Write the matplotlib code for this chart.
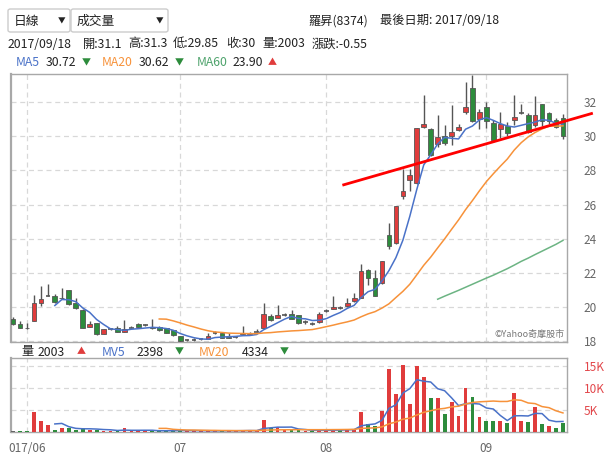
import numpy as np
import matplotlib
matplotlib.use("Agg")
import matplotlib.pyplot as plt
from matplotlib.patches import FancyBboxPatch

plt.rcParams["font.family"] = ["Noto Sans CJK TC", "DejaVu Sans"]

# daily candles, 2017/05 .. 2017/09/18 (one entry per trading day)
opens = [19.31, 18.98, 18.78, 19.18, 20.22, 20.65, 20.61, 20.55, 20.98, 20.25,
         19.82, 18.84, 19.04, 18.43, 18.69, 18.78, 18.55, 18.78, 18.98, 18.92,
         18.80, 18.82, 18.75, 18.63, 18.29, 18.04, 18.08, 18.12, 18.14, 18.47,
         18.49, 18.25, 18.22, 18.39, 18.39, 18.53, 18.78, 19.49, 19.37, 19.53,
         19.61, 19.51, 19.12, 19.02, 19.14, 19.77, 19.88, 19.96, 20.04, 20.35,
         20.55, 22.16, 21.72, 21.43, 24.22, 23.75, 26.53, 27.47, 27.28, 30.55,
         30.41, 29.57, 30.02, 30.00, 30.35, 31.43, 32.86, 31.04, 31.72, 30.80,
         30.45, 30.59, 30.94, 31.39, 31.24, 30.65, 31.88, 31.37, 30.98, 31.10]
highs = [19.43, 19.15, 19.08, 20.70, 21.20, 21.33, 20.75, 21.13, 21.00, 20.55,
         19.85, 19.18, 19.06, 18.72, 18.75, 18.90, 19.23, 18.90, 19.05, 19.00,
         19.27, 18.85, 18.78, 18.65, 18.30, 18.10, 18.20, 18.20, 18.49, 18.60,
         18.52, 18.45, 18.30, 18.88, 18.55, 18.70, 20.25, 19.60, 20.12, 19.65,
         19.80, 19.55, 19.25, 19.10, 19.70, 19.85, 20.65, 20.05, 20.55, 20.80,
         22.50, 22.20, 22.16, 22.70, 24.90, 25.90, 28.06, 28.06, 30.49, 32.45,
         30.50, 31.27, 30.65, 31.82, 30.75, 33.20, 33.59, 31.60, 32.00, 30.95,
         31.43, 30.84, 32.41, 31.92, 31.35, 32.35, 31.90, 31.45, 31.05, 31.30]
lows = [18.95, 18.76, 18.72, 19.15, 20.05, 20.62, 20.25, 20.45, 20.10, 19.90,
        18.75, 18.80, 18.35, 18.40, 18.65, 18.52, 18.52, 18.75, 18.80, 18.85,
        18.70, 18.60, 18.45, 18.30, 17.95, 18.00, 18.00, 18.05, 18.10, 18.40,
        18.18, 18.15, 18.18, 18.35, 18.35, 18.50, 18.75, 19.15, 19.35, 19.45,
        19.28, 19.00, 18.98, 18.95, 19.05, 19.70, 19.85, 19.90, 19.98, 20.30,
        20.50, 21.30, 20.62, 21.35, 23.39, 23.70, 26.33, 26.80, 27.22, 30.50,
        28.85, 29.37, 29.50, 29.47, 30.30, 31.30, 30.85, 30.45, 30.50, 29.70,
        29.90, 30.00, 30.65, 31.30, 30.20, 30.55, 30.60, 30.75, 30.50, 29.85]
closes = [18.98, 18.78, 18.75, 20.22, 20.49, 20.65, 20.29, 20.50, 20.16, 19.96,
          18.78, 18.98, 18.43, 18.69, 18.69, 18.55, 18.73, 18.78, 18.84, 18.92,
          18.75, 18.63, 18.49, 18.34, 18.00, 18.04, 18.08, 18.12, 18.27, 18.47,
          18.20, 18.20, 18.22, 18.47, 18.49, 18.53, 19.61, 19.22, 19.51, 19.53,
          19.31, 19.04, 19.12, 19.02, 19.61, 19.77, 19.98, 19.96, 20.22, 20.50,
          22.08, 21.69, 20.65, 22.67, 23.55, 25.90, 26.78, 27.71, 30.49, 30.75,
          28.88, 29.96, 29.61, 30.25, 30.55, 31.72, 30.90, 31.43, 30.90, 29.76,
          30.75, 30.20, 31.14, 31.39, 30.25, 31.24, 30.90, 30.90, 30.55, 30.00]
volumes = [300, 200, 200, 4560, 2400, 1500, 500, 800, 850, 500,
           1000, 500, 500, 300, 200, 250, 900, 300, 300, 250,
           250, 300, 300, 300, 500, 250, 250, 200, 300, 250,
           400, 300, 200, 350, 400, 300, 2800, 900, 1100, 400,
           400, 600, 300, 300, 500, 300, 600, 400, 700, 700,
           4600, 1900, 1300, 4800, 14300, 8600, 15300, 6300, 15000, 12500,
           7700, 7700, 4000, 6900, 3700, 9900, 7900, 3400, 2400, 2500,
           2600, 2100, 8800, 2500, 2200, 5600, 1800, 1300, 900, 2003]

# moving average lines as drawn on the chart (first value's day index, values)
ma5_start = 6
ma5 = [20.08, 20.43, 20.42, 20.31, 19.94, 19.68, 19.26, 18.97, 18.71, 18.67,
       18.62, 18.69, 18.72, 18.76, 18.8, 18.78, 18.73, 18.63, 18.44, 18.3,
       18.19, 18.12, 18.1, 18.2, 18.23, 18.25, 18.27, 18.31, 18.32, 18.38,
       18.66, 18.86, 19.07, 19.28, 19.44, 19.32, 19.3, 19.2, 19.22, 19.31,
       19.5, 19.67, 19.91, 20.09, 20.55, 20.89, 21.03, 21.52, 22.13, 22.89,
       23.91, 25.32, 26.89, 28.33, 28.92, 29.56, 29.94, 29.89, 29.85, 30.42,
       30.61, 30.97, 31.1, 30.94, 30.75, 30.61, 30.55, 30.65, 30.75, 30.84,
       30.98, 30.94, 30.77, 30.72]
ma20_start = 21
ma20 = [19.29, 19.28, 19.18, 19.06, 18.93, 18.82, 18.7, 18.6, 18.53, 18.5,
        18.46, 18.45, 18.44, 18.43, 18.43, 18.47, 18.49, 18.53, 18.56, 18.59,
        18.61, 18.64, 18.67, 18.75, 18.84, 18.93, 19.03, 19.12, 19.23, 19.42,
        19.59, 19.72, 19.93, 20.18, 20.55, 20.91, 21.33, 21.88, 22.44, 22.92,
        23.46, 23.99, 24.55, 25.1, 25.7, 26.24, 26.81, 27.35, 27.81, 28.25,
        28.67, 29.2, 29.63, 29.97, 30.23, 30.44, 30.6, 30.6, 30.62]
ma60_start = 61
ma60 = [20.45, 20.63, 20.8, 20.97, 21.15, 21.33, 21.51, 21.69, 21.86, 22.05,
        22.24, 22.45, 22.67, 22.86, 23.07, 23.27, 23.47, 23.67, 23.9]
mv5_start = 6
mv5 = [1832, 1952, 1210, 830, 730, 730, 670, 560, 500, 350,
       430, 390, 390, 400, 400, 280, 280, 280, 330, 330,
       320, 300, 300, 250, 280, 290, 290, 300, 330, 310,
       810, 950, 1100, 1100, 1120, 680, 560, 400, 420, 400,
       400, 420, 500, 540, 1400, 1660, 1840, 2660, 5380, 6180,
       8860, 9860, 11900, 11540, 11360, 9840, 9380, 7760, 6000, 6440,
       6480, 6360, 5460, 5220, 3760, 2600, 3680, 3700, 3640, 4240,
       4180, 2680, 2360, 2398]
mv20_start = 21
mv20 = [818, 823, 610, 515, 452, 440, 410, 382, 370, 340,
        330, 315, 318, 328, 330, 425, 455, 495, 502, 510,
        525, 525, 525, 525, 528, 545, 555, 575, 598, 808,
        888, 942, 1165, 1860, 2275, 2900, 3170, 3865, 4470, 4835,
        5190, 5375, 5705, 5865, 6345, 6710, 6860, 6945, 7035, 6935,
        6945, 7320, 7205, 6600, 6450, 5775, 5525, 4820, 4334]

month_pos = [2, 24, 45, 68]
month_labels = ["017/06", "07", "08", "09"]
price_ticks = [18, 20, 22, 24, 26, 28, 30, 32]
vol_ticks = [5000, 10000, 15000]
vol_tick_labels = ["5K", "10K", "15K"]
trend_x = [47.5, 83.1]
trend_y = [27.16, 31.34]

RED = "#e03c3c"
GREEN = "#2d8c3c"
BLUE = "#4a72c8"
ORANGE = "#f7923a"
MGREEN = "#6cb483"
EDGE = "#555555"
FS = 8.8


def span(start, vals):
    return np.arange(start, start + len(vals)), vals


fig = plt.figure(figsize=(6.12, 4.61), dpi=100)
ax = fig.add_axes([11 / 612, 1 - 342 / 461, 556 / 612, 268 / 461])
axv = fig.add_axes([11 / 612, 1 - 432 / 461, 556 / 612, 74 / 461])

# candles
x = np.arange(len(closes))
o = np.array(opens)
cl = np.array(closes)
ax.vlines(x, lows, highs, color=EDGE, lw=1, zorder=2)
body = np.abs(cl - o)
doji = body < 0.005
ax.bar(x[~doji], body[~doji], bottom=np.minimum(o, cl)[~doji], width=0.68,
       color=np.where(cl > o, RED, GREEN)[~doji], edgecolor=EDGE, lw=0.6, zorder=3)
ax.hlines(o[doji], x[doji] - 0.34, x[doji] + 0.34, color=EDGE, lw=1.2, zorder=3)
ax.plot(*span(ma5_start, ma5), color=BLUE, lw=1.1, zorder=4)
ax.plot(*span(ma20_start, ma20), color=ORANGE, lw=1.1, zorder=4)
ax.plot(*span(ma60_start, ma60), color=MGREEN, lw=1.1, zorder=4)
ax.plot(trend_x, trend_y, color="#ff0000", lw=2, clip_on=False, zorder=6)

ax.set_xlim(-0.3, 79.58)
ax.set_ylim(17.94, 33.66)
ax.set_yticks(price_ticks)
ax.set_xticks(month_pos)
ax.set_xticklabels([])
ax.yaxis.tick_right()
ax.tick_params(axis="y", length=0, pad=12, labelsize=8.5, labelcolor="#666666")
ax.tick_params(axis="x", length=0)
ax.grid(True, color="#d8d8d8", ls=(0, (4, 3)), lw=0.9)
ax.text(0.995, 0.01, "©Yahoo奇摩股市", transform=ax.transAxes, ha="right", va="bottom",
        fontsize=6.5, color="#777777")

# volume, coloured by change against the previous close
prev = np.concatenate([[closes[0]], closes[:-1]])
vcol = np.where(cl >= prev, RED, GREEN)
vcol[0] = "#666666"
axv.bar(x, volumes, width=0.55, color=vcol, zorder=3)
axv.plot(*span(mv5_start, mv5), color=BLUE, lw=1.1, zorder=4)
axv.plot(*span(mv20_start, mv20), color=ORANGE, lw=1.1, zorder=4)
axv.set_xlim(-0.3, 79.58)
axv.set_ylim(0, 16818)
axv.set_yticks(vol_ticks)
axv.set_yticklabels(vol_tick_labels)
axv.set_xticks(month_pos)
axv.set_xticklabels(month_labels)
axv.yaxis.tick_right()
axv.tick_params(axis="y", length=0, pad=12, labelsize=8.5, labelcolor="#e2474b")
axv.tick_params(axis="x", length=0, pad=7, labelsize=8.5, labelcolor="#666666")
axv.grid(True, color="#d8d8d8", ls=(0, (4, 3)), lw=0.9)

for a in (ax, axv):
    for s in a.spines.values():
        s.set_color("#a8a8a8")
        s.set_linewidth(1.0)
    a.spines["left"].set_linewidth(1.6)


def px(xp, yp):
    return xp / 612, 1 - yp / 461


# dropdowns
for x0, x1, label in [(8, 70, "日線"), (71, 168, "成交量")]:
    fig.patches.append(FancyBboxPatch(px(x0, 32), (x1 - x0) / 612, 23 / 461,
                                      boxstyle="round,pad=0,rounding_size=0.004",
                                      transform=fig.transFigure, fc="white", ec="#cccccc", lw=1))
    fig.text(*px(x0 + 6, 21), label, fontsize=9.2, va="center", ha="left", color="#222222")
    fig.text(*px(x1 - 8, 21), "▼", fontsize=5.5, va="center", ha="center", color="#222222")

fig.text(*px(308, 21), "羅昇(8374)", fontsize=FS, va="center", color="#222222")
fig.text(*px(380, 21), "最後日期: 2017/09/18", fontsize=FS, va="center", color="#222222")

for xp, t in [(8, "2017/09/18"), (83, "開:31.1"), (128, "高:31.3"), (173, "低:29.85"),
              (226, "收:30"), (262, "量:2003"), (312, "漲跌:-0.55")]:
    fig.text(*px(xp, 44), t, fontsize=FS, va="center", color="#222222")

for xp, t, col, fs in [(16, "MA5", BLUE, FS), (46, "30.72", "#222222", FS), (82, "▼", GREEN, 6.5),
                       (102, "MA20", ORANGE, FS), (139, "30.62", "#222222", FS), (175, "▼", GREEN, 6.5),
                       (197, "MA60", "#4ea36c", FS), (233, "23.90", "#222222", FS), (268, "▲", RED, 6.5)]:
    fig.text(*px(xp, 63), t, fontsize=fs, va="center", color=col)

for xp, t, col, fs in [(21, "量", "#222222", FS), (38, "2003", "#222222", FS), (77, "▲", RED, 6.5),
                       (102, "MV5", BLUE, FS), (137, "2398", "#222222", FS), (175, "▼", GREEN, 6.5),
                       (199, "MV20", ORANGE, FS), (242, "4334", "#222222", FS), (280, "▼", GREEN, 6.5)]:
    fig.text(*px(xp, 352), t, fontsize=fs, va="center", color=col)

fig.savefig("out.png", dpi=100)
